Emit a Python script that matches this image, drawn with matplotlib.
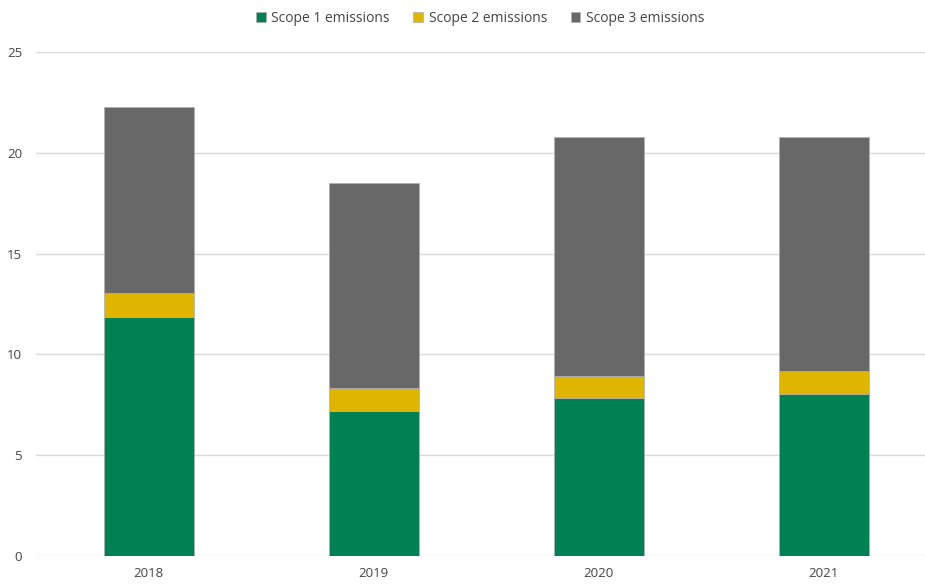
import matplotlib
matplotlib.use("Agg")
import matplotlib.pyplot as plt
import numpy as np

plt.rcParams["font.family"] = ["Open Sans", "DejaVu Sans"]

years = ["2018", "2019", "2020", "2021"]
scope1 = [11.86, 7.21, 7.82, 8.05]
scope2 = [1.17, 1.14, 1.12, 1.11]
scope3 = [9.23, 10.17, 11.83, 11.62]

COLORS = {"Scope 1 emissions": "#008053", "Scope 2 emissions": "#E0B500", "Scope 3 emissions": "#686868"}

W, H = 925, 588
fig = plt.figure(figsize=(W / 100, H / 100), dpi=100)
ax = fig.add_axes([36 / W, (H - 556) / H, (W - 36) / W, (556 - 52) / H])

x = np.arange(len(years))
bottom = np.zeros(len(years))
for label, vals in zip(COLORS, [scope1, scope2, scope3]):
    ax.bar(x, vals, width=0.4, bottom=bottom, color=COLORS[label],
           edgecolor="#b0b0b0", linewidth=0.5, label=label, zorder=3)
    bottom += np.array(vals)

ax.set_ylim(0, 25)
ax.set_xlim(-0.5, 3.45)
ax.set_yticks(range(0, 26, 5))
ax.set_xticks(x)
ax.set_xticklabels(years)
ax.yaxis.grid(True, color="#d9d9d9", linewidth=1, zorder=0)
ax.tick_params(length=0, labelsize=9.5, colors="#444444", pad=8)
ax.tick_params(axis="y", pad=10)
for s in ax.spines.values():
    s.set_visible(False)

handles, labels = ax.get_legend_handles_labels()
fig.legend(handles, labels, loc="center", bbox_to_anchor=(480 / W, 1 - 18 / H), ncol=3,
           frameon=False, fontsize=10, handlelength=0.7, handleheight=0.7,
           handletextpad=0.4, columnspacing=1.7, labelcolor="#444444")

fig.savefig("out.png", dpi=100)
